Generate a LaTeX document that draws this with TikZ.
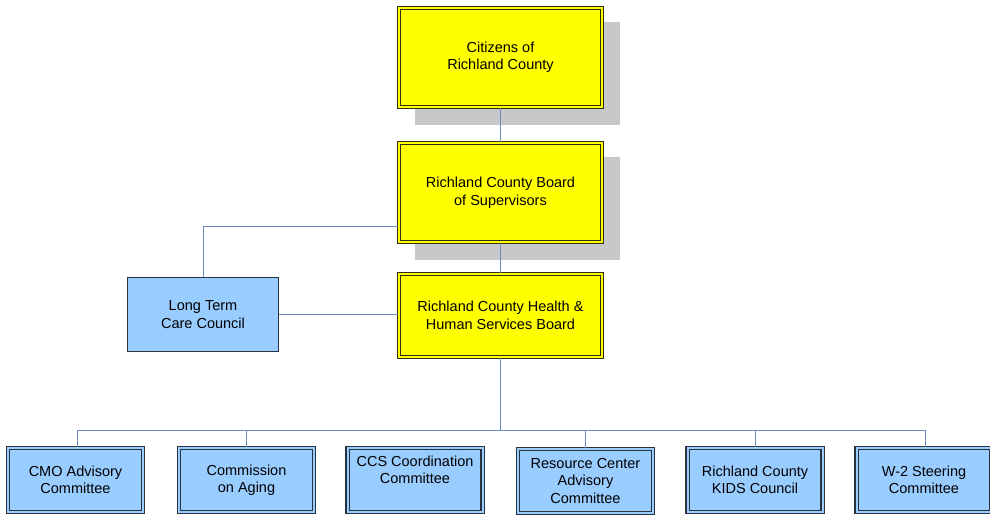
\documentclass[tikz,border=0pt]{standalone}
\usepackage{fontspec}
\setmainfont{Liberation Sans}
\begin{document}
\definecolor{boxyellow}{HTML}{FFFF00}
\definecolor{boxblue}{HTML}{99CCFF}
\definecolor{edgedark}{HTML}{2E2E1A}
\definecolor{edgenavy}{HTML}{2A323E}
\definecolor{linkblue}{HTML}{6F8DBE}
\definecolor{shadowgray}{HTML}{C8C8C8}
\begin{tikzpicture}[x=1pt,y=-1pt,
  every node/.style={font=\fontsize{14.5}{17.5}\selectfont, align=center, inner sep=0pt},
  yellowbox/.style={rectangle, fill=boxyellow, draw=edgedark, line width=1.2pt,
    double=boxyellow, double distance=2pt, minimum width=203pt, minimum height=99pt},
  bluebox/.style={rectangle, fill=boxblue, draw=edgenavy, line width=1.1pt,
    double=boxblue, double distance=2pt, minimum width=135pt, minimum height=64pt},
  plainblue/.style={rectangle, fill=boxblue, draw=edgenavy, line width=1.3pt,
    minimum width=151pt, minimum height=74pt},
  link/.style={draw=linkblue, line width=1pt}
]
\useasboundingbox (0,0) rectangle (990,516);

% drop shadows behind the two upper boxes
\fill[shadowgray] (415,22) rectangle (620,125);
\fill[shadowgray] (415,157) rectangle (620,260);

% upper chain of boards
\node[yellowbox] (citizens) at (500.5,57.5) {Citizens of\\Richland County};
\node[yellowbox] (board) at (500.5,192.5) {Richland County Board\\of Supervisors};
\node[yellowbox, minimum height=83pt] (hhs) at (500.5,315.5) {Richland County Health \&\\Human Services Board};
\node[plainblue] (ltc) at (203,314.5) {Long Term\\Care Council};

% committees
\node[bluebox] (cmo) at (75.5,480) {CMO Advisory\\Committee};
\node[bluebox] (coa) at (246.5,480) {Commission\\on Aging};
\node[bluebox] (ccs) at (415,480) {CCS Coordination\\Committee\\\phantom{Cg}};
\node[bluebox] (rca) at (585.5,481) {Resource Center\\Advisory\\Committee};
\node[bluebox] (kids) at (755,480) {Richland County\\KIDS Council};
\node[bluebox] (wtwo) at (924,480) {W-2 Steering\\Committee};

% connectors
\coordinate (busL) at (77,430);
\coordinate (busR) at (925,430);
\coordinate (busM) at (500.5,430);
\coordinate (ltcTurn) at (203,226);
\draw[link] (citizens.south) -- (board.north);
\draw[link] (board.south) -- (hhs.north);
\draw[link] (board.west |- ltcTurn) -- (ltcTurn) -- (ltc.north);
\draw[link] (ltc.east) -- (hhs.west |- ltc.east);
\draw[link] (hhs.south) -- (busM);
\draw[link] (busL) -- (busR);
\draw[link] (busL) -- (cmo.north -| busL);
\draw[link] (coa.north |- busL) -- (coa.north);
\draw[link] (rca.north |- busL) -- (rca.north);
\draw[link] (kids.north |- busL) -- (kids.north);
\draw[link] (busR) -- (wtwo.north -| busR);
\end{tikzpicture}
\end{document}
